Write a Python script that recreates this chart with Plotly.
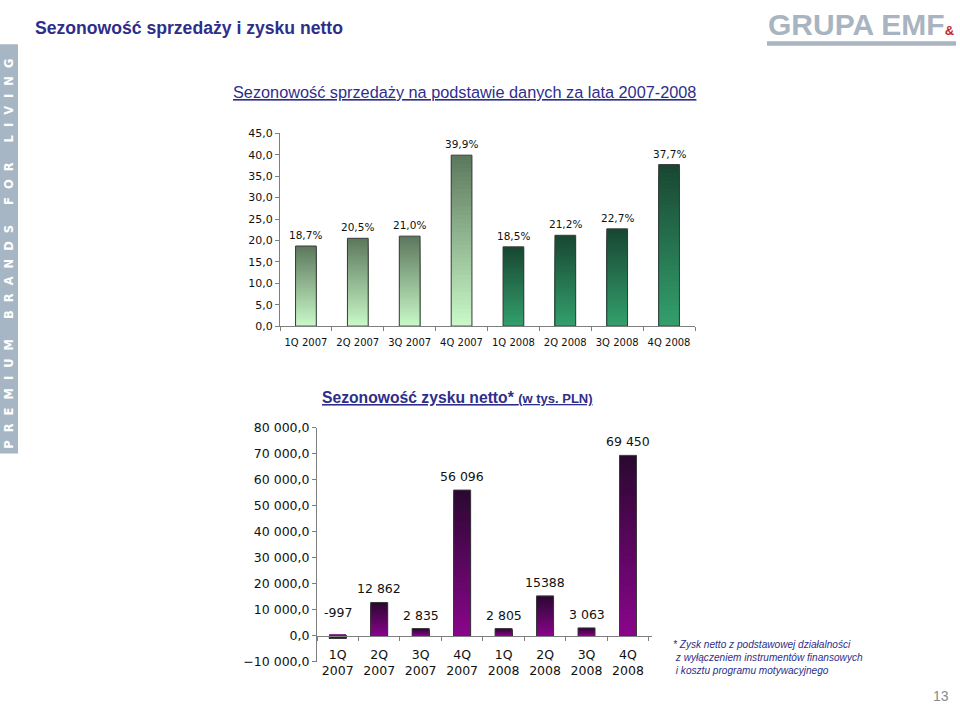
import plotly.graph_objects as go

# ---------------- data ----------------
quarters = ["1Q 2007", "2Q 2007", "3Q 2007", "4Q 2007", "1Q 2008", "2Q 2008", "3Q 2008", "4Q 2008"]
quarters_two_line = ["1Q<br>2007", "2Q<br>2007", "3Q<br>2007", "4Q<br>2007",
                     "1Q<br>2008", "2Q<br>2008", "3Q<br>2008", "4Q<br>2008"]
sales_share = [18.7, 20.5, 21.0, 39.9, 18.5, 21.2, 22.7, 37.7]
sales_labels = ["18,7%", "20,5%", "21,0%", "39,9%", "18,5%", "21,2%", "22,7%", "37,7%"]
profit = [-997, 12862, 2835, 56096, 2805, 15388, 3063, 69450]
profit_labels = ["-997", "12 862", "2 835", "56 096", "2 805", "15388", "3 063", "69 450"]
sales_ticks = [0, 5, 10, 15, 20, 25, 30, 35, 40, 45]
profit_ticks = [-10000, 0, 10000, 20000, 30000, 40000, 50000, 60000, 70000, 80000]

footnote_lines = ["* Zysk netto z podstawowej działalności",
                  "\u00a0z wyłączeniem instrumentów finansowych",
                  "\u00a0i kosztu programu motywacyjnego"]

# ---------------- helpers ----------------
W, H = 960, 711
def px(x):
    return x / W
def py(y):
    return 1 - y / H

def hex2rgb(h):
    h = h.lstrip("#")
    return tuple(int(h[i:i + 2], 16) for i in (0, 2, 4))

def lerp(c_bottom, c_top, t):
    a, b = hex2rgb(c_bottom), hex2rgb(c_top)
    return "rgb(%d,%d,%d)" % tuple(round(a[i] + (b[i] - a[i]) * t) for i in range(3))

NAVY = "#2e2e8a"
CHART_FONT = "Verdana, DejaVu Sans, sans-serif"
SANS = "Liberation Sans, Arial, sans-serif"
NSEG = 40

grad_2007 = ("#c9f9c9", "#5c775c")   # bottom, top
grad_2008 = ("#33a06c", "#184632")
grad_profit = ("#8a058c", "#2a0830")

fig = go.Figure()

def gradient_bars(xs, vals, grads, xaxis, yaxis, width):
    # tallest (top colour) first, shorter ones painted over it -> seamless gradient
    for k in range(NSEG - 1, -1, -1):
        t = (k + 0.5) / NSEG
        fig.add_trace(go.Bar(
            x=xs, y=[v * (k + 1) / NSEG for v in vals], width=width,
            marker=dict(color=[lerp(g[0], g[1], t) for g in grads], line=dict(width=0)),
            xaxis=xaxis, yaxis=yaxis, showlegend=False, hoverinfo="skip"))
    fig.add_trace(go.Bar(
        x=xs, y=vals, width=width,
        marker=dict(color="rgba(0,0,0,0)", line=dict(color="#3a3a3a", width=1)),
        xaxis=xaxis, yaxis=yaxis, showlegend=False, hoverinfo="skip"))

grads_top = [grad_2007 if q.endswith("2007") else grad_2008 for q in quarters]
gradient_bars(quarters, sales_share, grads_top, "x", "y", 0.4)
gradient_bars(quarters_two_line, profit, [grad_profit] * len(profit), "x2", "y2", 0.41)

# ---------------- axes ----------------
top_ydom = [py(325), py(128)]
bot_ydom = [py(668), py(429)]
bot_range = [profit_ticks[0], profit_ticks[-1]]
zero_pos = bot_ydom[0] + (bot_ydom[1] - bot_ydom[0]) * (0 - bot_range[0]) / (bot_range[1] - bot_range[0])

axis_common = dict(showline=True, linecolor="#7f7f7f", linewidth=1, ticks="outside",
                   ticklen=4, tickcolor="#7f7f7f", showgrid=False, zeroline=False)

fig.update_layout(
    width=W, height=H, margin=dict(l=0, r=0, t=0, b=0),
    paper_bgcolor="white", plot_bgcolor="rgba(0,0,0,0)",
    barmode="overlay", separators=", ", showlegend=False,
    xaxis=dict(domain=[px(280), px(695)], anchor="y", type="category", tickson="boundaries",
               tickfont=dict(family=CHART_FONT, size=10, color="#111"), ticklabelstandoff=7,
               **axis_common),
    yaxis=dict(domain=top_ydom, anchor="x", range=[0, 45], tickvals=sales_ticks,
               tickformat=".1f", tickfont=dict(family=CHART_FONT, size=11, color="#111"),
               **axis_common),
    xaxis2=dict(domain=[px(317), px(652)], anchor="free", position=zero_pos, type="category",
                tickson="boundaries", tickfont=dict(family=CHART_FONT, size=12.5, color="#111"),
                ticklabelstandoff=7, **axis_common),
    yaxis2=dict(domain=bot_ydom, anchor="x2", range=bot_range, tickvals=profit_ticks,
                tickformat=",.1f", tickfont=dict(family=CHART_FONT, size=12.5, color="#111"),
                **axis_common),
)

# ---------------- decorations ----------------
shapes = [
    dict(type="rect", xref="paper", yref="paper", x0=px(0), x1=px(18), y0=py(455), y1=py(37),
         fillcolor="#a7b6c4", line=dict(width=0), layer="below"),
    dict(type="rect", xref="paper", yref="paper", x0=px(767), x1=px(956), y0=py(38.5), y1=py(34),
         fillcolor="#a9b4c1", line=dict(width=0)),
]
fig.update_layout(shapes=shapes)

banner_words = ["PREMIUM", "BRANDS", "FOR", "LIVING"]
banner = ("\u00a0" * 5).join(("\u00a0" * 2).join(w) for w in banner_words)

annotations = []
# data labels above bars (placed through the axes)
for q, v, lab in zip(quarters, sales_share, sales_labels):
    annotations.append(dict(text=lab, x=q, y=v, xref="x", yref="y", yanchor="bottom",
                            yshift=3, font=dict(family=CHART_FONT, size=10.5, color="#111")))
for q, v, lab in zip(quarters_two_line, profit, profit_labels):
    annotations.append(dict(text=lab, x=q, y=max(v, 0), xref="x2", yref="y2", yanchor="bottom",
                            yshift=4 if v > 0 else 14,
                            font=dict(family=CHART_FONT, size=12.5, color="#111")))

paper_ann = [
    dict(text="<b>Sezonowość sprzedaży i zysku netto</b>", x=px(33), y=py(20), xanchor="left",
         yanchor="middle", font=dict(family=SANS, size=17.6, color=NAVY)),
    dict(text="<u>Sezonowość sprzedaży na podstawie danych za lata 2007-2008</u>", x=px(464),
         y=py(86), xanchor="center", yanchor="middle", font=dict(family=SANS, size=16.3, color=NAVY)),
    dict(text="<u><b>Sezonowość zysku netto* <span style='font-size:13px'>(w tys. PLN)</span></b></u>",
         x=px(320), y=py(398), xanchor="left", yanchor="middle",
         font=dict(family=SANS, size=15.7, color=NAVY)),
    dict(text="<i>" + "<br>".join(footnote_lines) + "</i>", x=px(671), y=py(663), xanchor="left",
         yanchor="middle", align="left", font=dict(family=SANS, size=10.1, color=NAVY)),
    dict(text="13", x=px(951), y=py(703), xanchor="right", yanchor="middle",
         font=dict(family=SANS, size=14, color="#8a8a8a")),
    dict(text="<b>" + banner + "</b>", x=px(9), y=py(251), xanchor="center", yanchor="middle",
         textangle=-90, font=dict(family="DejaVu Sans, sans-serif", size=11.5, color="white")),
    dict(text="<b>GRUPA EMF</b><span style='font-size:13px;color:#c0272d'><b>&</b></span>",
         x=px(766), y=py(17), xanchor="left", yanchor="middle",
         font=dict(family=SANS, size=30, color="#a9b4c1")),
]
for a in paper_ann:
    a.update(xref="paper", yref="paper")
annotations += paper_ann
for a in annotations:
    a.update(showarrow=False)
fig.update_layout(annotations=annotations)

fig.write_html("out.html", config={"displayModeBar": False},
               post_script="document.body.style.margin='0';document.body.style.overflow='hidden';")
